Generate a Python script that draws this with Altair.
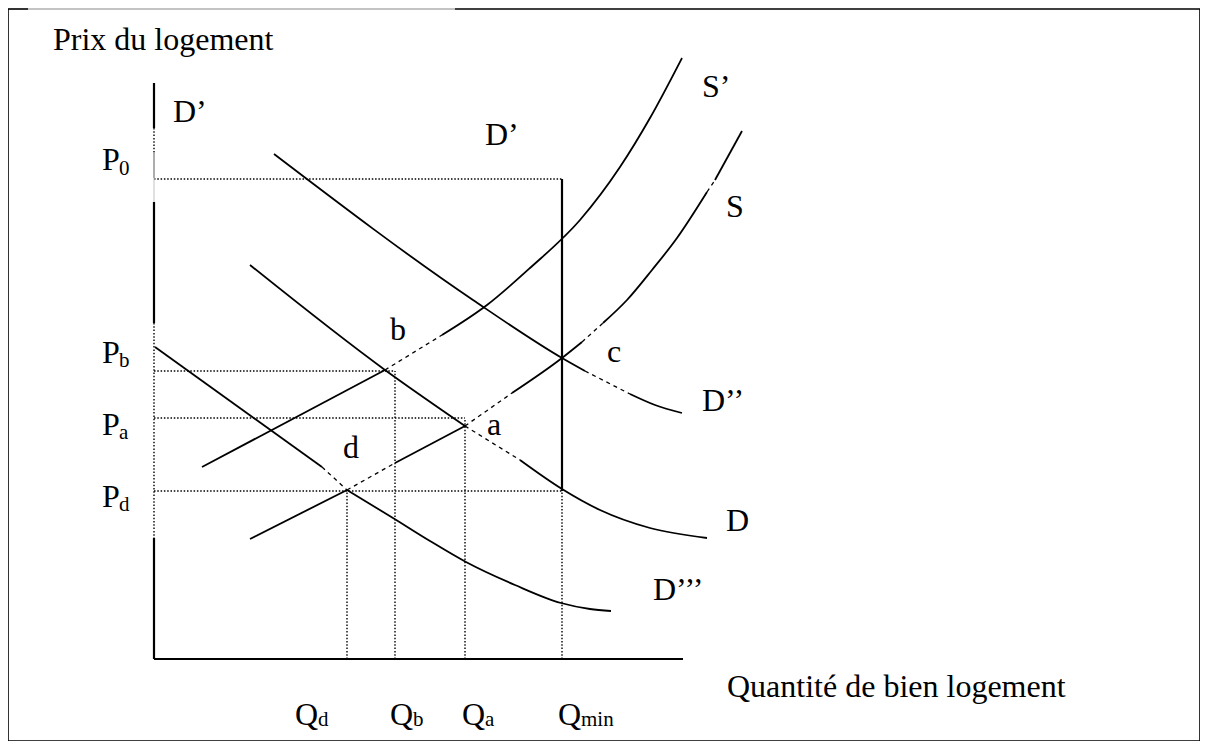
import altair as alt
import pandas as pd

# ---------------- data (quantity Q, price P in diagram units) ----------------
# Supply S' (shifted supply)
S1_lo_Q = [48, 231]
S1_lo_P = [192, 289]
S1_dash_Q = [231, 288]
S1_dash_P = [289, 324]
S1_hi_Q = [288, 333, 376, 426, 466, 496, 528]
S1_hi_P = [324, 354, 391, 439, 492, 541, 601]

# Supply S
S_1_Q = [96, 193]
S_1_P = [120, 169]
S_d1_Q = [193, 241]
S_d1_P = [169, 196]
S_2_Q = [241, 311]
S_2_P = [196, 233]
S_d2_Q = [311, 358]
S_d2_P = [233, 266]
S_3_Q = [358, 408, 428]
S_3_P = [266, 301, 317]
S_d3_Q = [428, 449]
S_d3_P = [317, 336]
S_4_Q = [449, 473, 498, 523, 553]
S_4_P = [336, 359, 389, 421, 467]
S_d4_Q = [553, 561]
S_d4_P = [467, 479]
S_5_Q = [561, 588]
S_5_P = [479, 528]

# Demand D'''
D3_1_Q = [1, 168]
D3_1_P = [312, 192]
D3_d_Q = [168, 193]
D3_d_P = [192, 169]
D3_2_Q = [193, 239, 276, 312, 361, 407, 436, 457]
D3_2_P = [169, 141, 118, 97, 74, 56, 50, 48]

# Demand D
D_1_Q = [96, 231, 311]
D_1_P = [394, 289, 233]
D_d_Q = [311, 366]
D_d_P = [233, 199]
D_2_Q = [366, 408, 446, 496, 553]
D_2_P = [199, 170, 149, 131, 121]

# Demand D' / D''
D2_1_Q = [120, 319, 408, 431]
D2_1_P = [505, 359, 301, 288]
D2_d_Q = [431, 476]
D2_d_P = [288, 265]
D2_2_Q = [476, 501, 528]
D2_2_P = [265, 254, 246]

# Price and quantity levels
P0, Pb, Pa, Pd = 480, 288, 241, 168
Qd, Qb, Qa, Qmin = 193, 241, 311, 408
X_AXIS_END = 529
Y_AXIS_TOP = 576

# ---------------- build tables ----------------
def seg_rows(name, qs, ps):
    return [dict(seg=name, i=k, Q=q, P=p) for k, (q, p) in enumerate(zip(qs, ps))]

solid_curves = pd.DataFrame(
    seg_rows("S1lo", S1_lo_Q, S1_lo_P) + seg_rows("S1hi", S1_hi_Q, S1_hi_P)
    + seg_rows("S1", S_1_Q, S_1_P) + seg_rows("S2", S_2_Q, S_2_P)
    + seg_rows("S3", S_3_Q, S_3_P) + seg_rows("S4", S_4_Q, S_4_P)
    + seg_rows("S5", S_5_Q, S_5_P)
    + seg_rows("D31", D3_1_Q, D3_1_P) + seg_rows("D32", D3_2_Q, D3_2_P)
    + seg_rows("D1", D_1_Q, D_1_P) + seg_rows("D2", D_2_Q, D_2_P)
    + seg_rows("D21", D2_1_Q, D2_1_P) + seg_rows("D22", D2_2_Q, D2_2_P)
)
dashed_curves = pd.DataFrame(
    seg_rows("S1d", S1_dash_Q, S1_dash_P)
    + seg_rows("Sd1", S_d1_Q, S_d1_P) + seg_rows("Sd2", S_d2_Q, S_d2_P)
    + seg_rows("Sd3", S_d3_Q, S_d3_P) + seg_rows("Sd4", S_d4_Q, S_d4_P)
    + seg_rows("D3d", D3_d_Q, D3_d_P) + seg_rows("Dd", D_d_Q, D_d_P)
    + seg_rows("D2d", D2_d_Q, D2_d_P)
)
guides = pd.DataFrame(
    seg_rows("hP0", [0, Qmin], [P0, P0]) + seg_rows("hPb", [0, Qb], [Pb, Pb])
    + seg_rows("hPa", [0, Qa], [Pa, Pa]) + seg_rows("hPd", [0, Qmin], [Pd, Pd])
    + seg_rows("vQd", [Qd, Qd], [0, Pd]) + seg_rows("vQb", [Qb, Qb], [0, Pb])
    + seg_rows("vQa", [Qa, Qa], [0, Pa]) + seg_rows("vQm", [Qmin, Qmin], [0, Pd])
    + seg_rows("ax1", [0, 0], [531, 506]) + seg_rows("ax2", [0, 0], [336, 121])
)
thick = pd.DataFrame(
    seg_rows("xaxis", [0, X_AXIS_END], [0, 0])
    + seg_rows("ya", [0, 0], [0, 121]) + seg_rows("yb", [0, 0], [336, 457])
    + seg_rows("yc", [0, 0], [531, Y_AXIS_TOP])
    + seg_rows("qmin", [Qmin, Qmin], [Pd, P0])
)
gray = pd.DataFrame(seg_rows("g1", [0, 0], [481, 506]))
lightgray = pd.DataFrame(seg_rows("g2", [0, 0], [457, 481]))

frame_black = pd.DataFrame(
    seg_rows("L", [-146, -146], [650, -82]) + seg_rows("R", [1046, 1046], [650, -82])
    + seg_rows("B", [-146, 1046], [-82, -82]) + seg_rows("T1", [-146, -126], [650, 650])
    + seg_rows("T2", [301, 1046], [650, 650])
)
frame_gray = pd.DataFrame(seg_rows("T0", [-126, 301], [650, 650]))

# labels: text, Q, P
big_labels = pd.DataFrame([
    dict(t="Prix du logement", Q=-101, P=609),
    dict(t="D\u2019", Q=19, P=537),
    dict(t="D\u2019", Q=331, P=514),
    dict(t="S\u2019", Q=548, P=562),
    dict(t="S", Q=572, P=442),
    dict(t="b", Q=236, P=319),
    dict(t="c", Q=453, P=297),
    dict(t="a", Q=333, P=224),
    dict(t="d", Q=189, P=201),
    dict(t="D\u2019\u2019", Q=548, P=248),
    dict(t="D", Q=572, P=128),
    dict(t="D\u2019\u2019\u2019", Q=499, P=59),
    dict(t="Quantit\u00e9 de bien logement", Q=573, P=-38),
    dict(t="P", Q=-52, P=489),
    dict(t="P", Q=-52, P=296),
    dict(t="P", Q=-52, P=224),
    dict(t="P", Q=-52, P=152),
    dict(t="Q", Q=141, P=-66),
    dict(t="Q", Q=236, P=-66),
    dict(t="Q", Q=308, P=-66),
    dict(t="Q", Q=404, P=-66),
])
sub_labels = pd.DataFrame([
    dict(t="0", Q=-35, P=484),
    dict(t="b", Q=-35, P=292),
    dict(t="a", Q=-35, P=220),
    dict(t="d", Q=-35, P=148),
    dict(t="d", Q=164, P=-67),
    dict(t="b", Q=259, P=-67),
    dict(t="a", Q=331, P=-67),
    dict(t="min", Q=427, P=-67),
])

# ---------------- chart ----------------
xs = alt.Scale(domain=[-146, 1046], nice=False, zero=False)
ys = alt.Scale(domain=[-82, 651], nice=False, zero=False)
X = alt.X("Q:Q", scale=xs, axis=None)
Y = alt.Y("P:Q", scale=ys, axis=None)


def lines(df, width, dash=None, color="black", interp="linear"):
    kw = dict(strokeWidth=width, color=color, interpolate=interp, strokeCap="butt")
    if dash is not None:
        kw["strokeDash"] = dash
    return alt.Chart(df).mark_line(**kw).encode(x=X, y=Y, detail="seg:N", order="i:Q")


font = "Liberation Serif"
layers = [
    lines(frame_black, 1.6),
    lines(frame_gray, 1, color="#888888"),
    lines(guides, 1.4, dash=[1.5, 1.8], color="black"),
    lines(gray, 1.2, color="#777777"),
    lines(lightgray, 1.2, color="#cccccc"),
    lines(thick, 2.2),
    lines(solid_curves, 1.8, interp="monotone"),
    lines(dashed_curves, 1.3, dash=[4, 4], interp="monotone"),
    alt.Chart(big_labels).mark_text(font=font, fontSize=32, align="left",
                                    baseline="alphabetic", color="black")
    .encode(x=X, y=Y, text="t:N"),
    alt.Chart(sub_labels).mark_text(font=font, fontSize=21, align="left",
                                    baseline="alphabetic", color="black")
    .encode(x=X, y=Y, text="t:N"),
]

chart = (
    alt.layer(*layers)
    .properties(width=1192, height=733, padding=0,
                autosize=alt.AutoSizeParams(type="none"), background="white")
    .configure_view(stroke=None)
)

chart.save("out.html", embed_options={"renderer": "svg", "actions": False})
